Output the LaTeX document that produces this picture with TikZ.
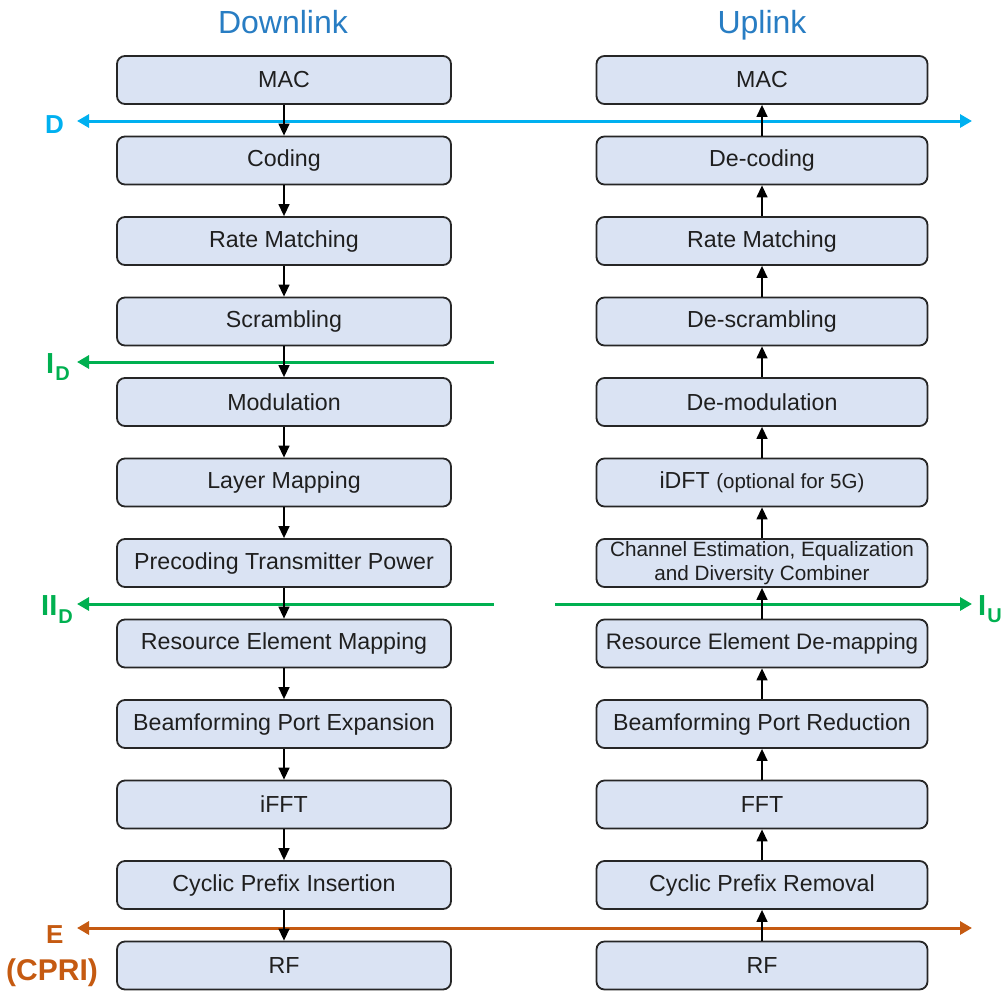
\documentclass[tikz,border=0pt]{standalone}
\usepackage{fontspec}
\setmainfont{Liberation Sans}
\usetikzlibrary{arrows.meta}
\definecolor{boxfill}{HTML}{DAE3F3}
\definecolor{boxdraw}{HTML}{262626}
\definecolor{hdrblue}{RGB}{40,125,195}
\definecolor{dcyan}{HTML}{00B0F0}
\definecolor{sgreen}{HTML}{00B050}
\definecolor{eorange}{HTML}{C55A11}
\tikzset{
  box/.style={draw=boxdraw, line width=1.8pt, fill=boxfill, rounded corners=8pt,
    minimum height=48pt, inner sep=0pt, text=black!88,
    font=\fontsize{23.2}{26}\selectfont, align=center},
  lbox/.style={box, minimum width=334pt},
  rbox/.style={box, minimum width=331pt},
  flow/.style={draw=black, line width=1.4pt, -{Triangle[length=12pt,width=11pt]}},
  cut/.style={line width=3pt, {Triangle[length=12pt,width=13pt]}-{Triangle[length=12pt,width=13pt]}},
  cutL/.style={line width=3pt, {Triangle[length=12pt,width=13pt]}-},
  cutR/.style={line width=3pt, -{Triangle[length=12pt,width=13pt]}},
  hdr/.style={text=hdrblue, font=\fontsize{32}{36}\selectfont, anchor=base, inner sep=0pt},
  lab/.style={anchor=base west, inner sep=0pt, font=\bfseries}
}
\begin{document}
\begin{tikzpicture}[x=1pt,y=-1pt]
\useasboundingbox (0,0) rectangle (1006,991);
% headers
\node[hdr] (hdl) at (283,33) {Downlink};
\node[hdr] (hul) at (762,33) {Uplink};
% left boxes
\foreach \i/\t in {0/MAC,1/Coding,2/Rate Matching,3/Scrambling,4/Modulation,5/Layer Mapping,6/Precoding Transmitter Power,7/Resource Element Mapping,8/Beamforming Port Expansion,9/iFFT,10/Cyclic Prefix Insertion,11/RF}
  \node[lbox] (L\i) at (284,{80+80.5*\i}) {\t};
% right boxes
\node[rbox] (R0) at (762,80) {MAC};
\node[rbox] (R1) at (762,160.5) {De-coding};
\node[rbox] (R2) at (762,241) {Rate Matching};
\node[rbox] (R3) at (762,321.5) {De-scrambling};
\node[rbox] (R4) at (762,402) {De-modulation};
\node[rbox] (R5) at (762,482.5) {iDFT {\fontsize{20.5}{22}\selectfont(optional for 5G)}};
\node[rbox, font=\fontsize{20.7}{25}\selectfont] (R6) at (762,563) {Channel Estimation, Equalization\\[-1pt]and Diversity Combiner};
\node[rbox, font=\fontsize{22.4}{26}\selectfont] (R7) at (762,643.5) {Resource Element De-mapping};
\node[rbox] (R8) at (762,724) {Beamforming Port Reduction};
\node[rbox] (R9) at (762,804.5) {FFT};
\node[rbox] (R10) at (762,885) {Cyclic Prefix Removal};
\node[rbox] (R11) at (762,965.5) {RF};
% split lines
\coordinate (dL) at (77,121);  \coordinate (dR) at (972,121);
\coordinate (iL) at (77,362);  \coordinate (iR) at (494,362);
\coordinate (iiL) at (77,604); \coordinate (iiR) at (494,604);
\coordinate (iuL) at (555,604); \coordinate (iuR) at (972,604);
\coordinate (eL) at (77,928);  \coordinate (eR) at (972,928);
\draw[cut, draw=dcyan, fill=dcyan] (dL) -- (dR);
\draw[cutL, draw=sgreen, fill=sgreen] (iL) -- (iR);
\draw[cutL, draw=sgreen, fill=sgreen] (iiL) -- (iiR);
\draw[cutR, draw=sgreen, fill=sgreen] (iuL) -- (iuR);
\draw[cut, draw=eorange, fill=eorange] (eL) -- (eR);
% flow arrows
\foreach \i [evaluate=\i as \j using int(\i+1)] in {0,...,10} {
  \draw[flow] (L\i.south) -- (L\j.north);
  \draw[flow] (R\j.north) -- (R\i.south);
}
% labels
\node[lab, text=dcyan, font=\bfseries\fontsize{26}{28}\selectfont] (labD) at (45,133) {D};
\node[lab, text=sgreen] (labID) at (46,373) {\fontsize{29}{30}\selectfont I\kern1pt\raisebox{-7pt}{\fontsize{20}{20}\selectfont D}};
\node[lab, text=sgreen] (labIID) at (41,615) {\fontsize{29}{30}\selectfont II\kern1pt\raisebox{-8pt}{\fontsize{20}{20}\selectfont D}};
\node[lab, text=sgreen] (labIU) at (978,615) {\fontsize{29}{30}\selectfont I\kern1pt\raisebox{-7pt}{\fontsize{20}{20}\selectfont U}};
\node[lab, text=eorange, font=\bfseries\fontsize{26}{28}\selectfont] (labE) at (46,943) {E};
\node[lab, text=eorange, font=\bfseries\fontsize{30}{32}\selectfont] (labC) at (6,980) {(CPRI)};
\end{tikzpicture}
\end{document}
